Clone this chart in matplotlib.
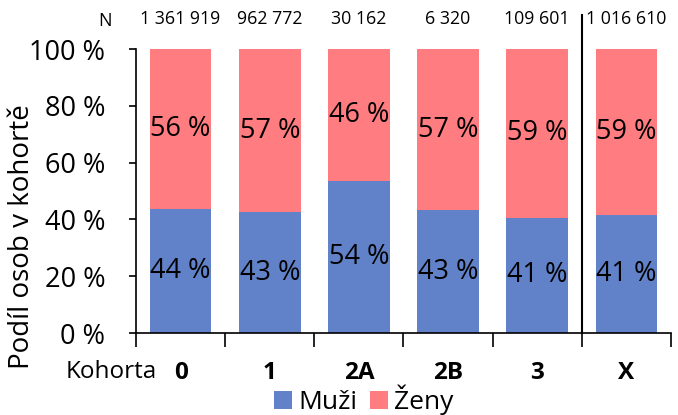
import matplotlib.pyplot as plt
import numpy as np

# data
kohorty = ["0", "1", "2A", "2B", "3", "X"]
n_osob = ["1 361 919", "962 772", "30 162", "6 320", "109 601", "1 016 610"]
muzi = [43.6, 42.6, 53.6, 43.2, 40.6, 41.4]
zeny = [100 - m for m in muzi]

c_muzi = "#6182C9"
c_zeny = "#FF7C80"
font = "Open Sans"
W, H = 678, 415

plt.rcParams['font.family'] = [font, 'DejaVu Sans']

fig = plt.figure(figsize=(W / 100, H / 100), dpi=100)
ax = fig.add_axes([136 / W, 1 - 333 / H, (671 - 136) / W, (333 - 49) / H])

x = np.arange(len(kohorty))
w = 0.69
ax.bar(x, muzi, w, color=c_muzi, label="Muži")
ax.bar(x, zeny, w, bottom=muzi, color=c_zeny, label="Ženy")

# popisky v segmentech
for i in range(len(kohorty)):
    ax.text(x[i], muzi[i] / 2, f"{round(muzi[i])} %", ha="center", va="center", fontsize=19.5)
    ax.text(x[i], muzi[i] + zeny[i] / 2, f"{round(zeny[i])} %", ha="center", va="center", fontsize=19.5)
    ax.text(x[i], 110.6, n_osob[i], ha="center", va="center", fontsize=12.8)
fig.text(105 / W, 1 - 21 / H, "N", ha="center", va="center", fontsize=13)

ax.set_xlim(-0.5, 5.5)
ax.set_ylim(0, 100)
ax.set_yticks(range(0, 101, 20))
ax.set_yticklabels([f"{v} %" for v in range(0, 101, 20)], fontsize=19.5)
ax.set_xticks(x)
ax.set_xticklabels(kohorty, fontsize=17.5, fontweight="bold")
ax.set_xticks(np.arange(-0.5, 6, 1), minor=True)
ax.tick_params(axis="x", which="major", length=0, pad=20)
ax.tick_params(axis="x", which="minor", length=10, direction="out", width=1.2)
ax.tick_params(axis="y", length=5, width=1.2, pad=17)
for s in ["top", "right"]:
    ax.spines[s].set_visible(False)
ax.spines["left"].set_linewidth(1.2)
ax.spines["bottom"].set_linewidth(1.2)

# svisla cara mezi 3 a X
ax.plot([4.5, 4.5], [0, 112], color="black", lw=1.5, clip_on=False)

fig.text(111 / W, 1 - 372 / H, "Kohorta", ha="center", va="center", fontsize=17.5)
fig.text(22 / W, 1 - 237 / H, "Podíl osob v kohortě", rotation=90,
         ha="center", va="center", fontsize=20)

fig.legend(loc="center", bbox_to_anchor=(364 / W, 1 - 400 / H), ncol=2, frameon=False,
           fontsize=19, handlelength=0.65, handleheight=0.65, handletextpad=0.25,
           columnspacing=0.5, borderpad=0)

fig.savefig("out.png", dpi=100)
